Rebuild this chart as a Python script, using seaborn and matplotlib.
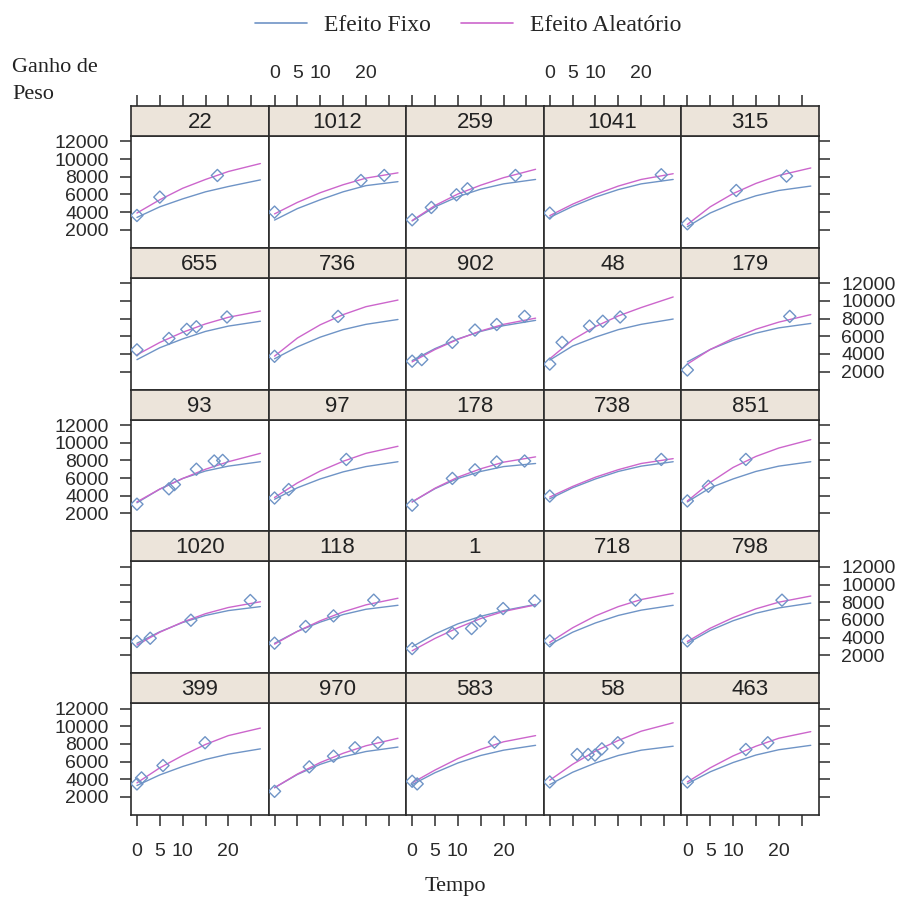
import pandas as pd
import matplotlib
matplotlib.use("Agg")
import matplotlib.pyplot as plt
from matplotlib.lines import Line2D
import seaborn as sns

# ---- dados ----
animais = ["22", "1012", "259", "1041", "315",
           "655", "736", "902", "48", "179",
           "93", "97", "178", "738", "851",
           "1020", "118", "1", "718", "798",
           "399", "970", "583", "58", "463"]

# tempos em que as curvas foram lidas
tempo_curva = [0, 5, 10, 15, 20, 27]

efeito_fixo = [
    [3400, 4600, 5500, 6300, 6900, 7650],
    [3100, 4400, 5400, 6300, 7000, 7450],
    [3000, 4600, 5750, 6600, 7200, 7700],
    [3400, 4650, 5700, 6550, 7200, 7700],
    [2350, 3900, 5000, 5850, 6450, 6950],
    [3350, 4700, 5700, 6550, 7150, 7700],
    [3450, 4800, 5900, 6750, 7350, 7900],
    [3250, 4600, 5700, 6550, 7200, 7800],
    [3300, 4900, 5900, 6750, 7350, 7950],
    [3100, 4500, 5550, 6350, 6950, 7450],
    [3200, 4750, 5950, 6800, 7350, 7850],
    [3600, 4900, 5900, 6700, 7300, 7850],
    [3300, 4800, 5950, 6750, 7300, 7650],
    [3650, 4900, 5900, 6750, 7350, 7850],
    [3300, 4900, 5900, 6750, 7350, 7850],
    [3350, 4650, 5700, 6500, 7050, 7500],
    [3350, 4700, 5750, 6600, 7200, 7650],
    [2950, 4400, 5550, 6400, 7050, 7750],
    [3200, 4600, 5650, 6500, 7100, 7650],
    [3350, 4800, 5900, 6750, 7350, 7900],
    [3300, 4500, 5450, 6250, 6850, 7450],
    [3050, 4550, 5700, 6550, 7150, 7650],
    [3400, 4750, 5850, 6700, 7300, 7850],
    [3400, 4800, 5850, 6700, 7300, 7750],
    [3500, 4850, 5900, 6750, 7350, 7850],
]

efeito_aleatorio = [
    [3900, 5400, 6700, 7700, 8600, 9500],
    [3800, 5100, 6200, 7100, 7850, 8450],
    [3050, 4750, 6050, 7050, 7900, 8850],
    [3600, 4900, 6000, 6950, 7700, 8350],
    [2600, 4600, 6100, 7250, 8150, 9000],
    [3900, 5300, 6450, 7400, 8150, 8850],
    [3750, 5800, 7300, 8450, 9350, 10100],
    [3100, 4500, 5650, 6600, 7350, 8050],
    [3450, 5600, 7100, 8300, 9250, 10450],
    [2850, 4500, 5750, 6800, 7600, 8450],
    [3300, 4750, 5950, 7000, 7850, 8800],
    [3800, 5450, 6800, 7900, 8800, 9600],
    [3300, 4850, 6100, 7050, 7800, 8400],
    [3850, 5050, 6100, 6950, 7650, 8200],
    [3400, 5500, 7200, 8450, 9400, 10350],
    [3150, 4600, 5750, 6700, 7400, 8050],
    [3250, 4700, 5900, 6900, 7700, 8450],
    [2500, 3900, 5100, 6150, 6950, 7700],
    [3450, 5100, 6450, 7500, 8300, 9000],
    [3550, 5050, 6250, 7250, 8000, 8700],
    [3600, 5300, 6700, 7950, 8950, 9800],
    [3050, 4600, 5900, 6950, 7800, 8650],
    [3600, 5050, 6350, 7400, 8250, 8950],
    [3900, 5700, 7200, 8400, 9450, 10400],
    [3700, 5300, 6650, 7750, 8650, 9400],
]

obs_tempo = [
    [0, 5, 17.6],
    [0, 18.9, 24],
    [0, 4.2, 9.7, 12.1, 22.6],
    [0, 24.4],
    [0, 10.7, 21.7],
    [0, 7, 10.9, 13, 19.7],
    [0, 13.9],
    [0, 2.1, 8.8, 13.75, 18.5, 24.6],
    [0, 2.7, 8.7, 11.6, 15.4],
    [0, 22.4],
    [0, 7, 8.2, 13, 16.9, 18.75],
    [0, 3.1, 15.7],
    [0, 8.8, 13.75, 18.5, 24.6],
    [0, 24.4],
    [0, 4.6, 12.8],
    [0, 2.9, 11.8, 24.8],
    [0, 6.8, 12.9, 21.7],
    [0, 8.8, 13, 14.9, 19.9, 26.8],
    [0, 18.75],
    [0, 20.7],
    [0, 1, 5.7, 14.9],
    [0, 7.6, 12.9, 17.6, 22.6],
    [0, 1.1, 18],
    [0, 6, 8.4, 9.9, 11.4, 14.9],
    [0, 12.8, 17.6],
]

obs_peso = [
    [3620, 5700, 8150],
    [4000, 7580, 8150],
    [3130, 4530, 5960, 6640, 8150],
    [3890, 8230],
    [2680, 6450, 8080],
    [4460, 5750, 6780, 7070, 8180],
    [3730, 8250],
    [3180, 3360, 5310, 6700, 7330, 8250],
    [2850, 5310, 7150, 7700, 8180],
    [2180, 8250],
    [3040, 4780, 5260, 7000, 7930, 8000],
    [3740, 4700, 8110],
    [2930, 5960, 6930, 7820, 7930],
    [3960, 8110],
    [3410, 5070, 8110],
    [3550, 3920, 5960, 8190],
    [3360, 5250, 6450, 8230],
    [2750, 4490, 5020, 5890, 7280, 8150],
    [3620, 8230],
    [3620, 8230],
    [3480, 4160, 5560, 8140],
    [2640, 5410, 6620, 7570, 8140],
    [3780, 3480, 8210],
    [3700, 6810, 6810, 6740, 7450, 8140],
    [3700, 7380, 8140],
]

x_ticks = [0, 5, 10, 15, 20, 25]
x_tick_labels = ["0", "5", "10", "", "20", ""]
y_ticks = [2000, 4000, 6000, 8000, 10000, 12000]
y_tick_labels = ["2000", "4000", "6000", "8000", "10000", "12000"]

# ---- estilo ----
sns.set_theme(style="white")
plt.rcParams["font.family"] = ["Liberation Sans", "DejaVu Sans"]
serif = ["Liberation Serif", "DejaVu Serif"]

azul = "#6f94c6"
roxo = "#cc66cc"
cor_strip = "#ece4da"
cor_borda = "#2b2b2b"

W, H = 901, 900
fig = plt.figure(figsize=(W / 100, H / 100), dpi=100)

pw = 137.6
row_h = 141.8
strip_h = 30
ph = row_h - strip_h
xlim = (-1.3, 28.8)
ylim = (-40, 12620)

for i, animal in enumerate(animais):
    r, c = divmod(i, 5)
    x0 = 131 + pw * c
    st = 106 + row_h * r

    ax = fig.add_axes([x0 / W, 1 - (st + row_h) / H, pw / W, ph / H])
    sax = fig.add_axes([x0 / W, 1 - (st + strip_h) / H, pw / W, strip_h / H])

    curvas = pd.DataFrame({
        "Tempo": tempo_curva * 2,
        "Peso": efeito_fixo[i] + efeito_aleatorio[i],
        "Efeito": ["Efeito Fixo"] * len(tempo_curva) + ["Efeito Aleatório"] * len(tempo_curva),
    })
    sns.lineplot(data=curvas, x="Tempo", y="Peso", hue="Efeito",
                 palette={"Efeito Fixo": azul, "Efeito Aleatório": roxo},
                 ax=ax, legend=False, lw=1.0, estimator=None, sort=True)
    sns.scatterplot(x=obs_tempo[i], y=obs_peso[i], marker="D", s=38,
                    facecolor="none", edgecolor=azul, linewidth=1.0, ax=ax, zorder=3)

    ax.set_xlim(xlim)
    ax.set_ylim(ylim)
    ax.set_xlabel("")
    ax.set_ylabel("")
    ax.set_xticks(x_ticks)
    ax.set_xticklabels(x_tick_labels)
    ax.set_yticks(y_ticks)
    ax.set_yticklabels(y_tick_labels)
    ax.tick_params(axis="y", direction="out", length=8, width=1.1,
                   color=cor_borda, labelsize=14, labelcolor="#2a2a2a", pad=8,
                   left=(c == 0), right=(c == 4),
                   labelleft=(c == 0 and r % 2 == 0),
                   labelright=(c == 4 and r % 2 == 1))
    ax.tick_params(axis="x", direction="out", length=8, width=1.1,
                   color=cor_borda, labelsize=14, labelcolor="#2a2a2a", pad=12,
                   bottom=(r == 4), top=False,
                   labelbottom=(r == 4 and c % 2 == 0), labeltop=False)
    for sp in ax.spines.values():
        sp.set_color(cor_borda)
        sp.set_linewidth(1.2)

    # faixa com o numero do animal
    sax.set_facecolor(cor_strip)
    sax.set_xlim(xlim)
    sax.set_ylim(0, 1)
    sax.set_xticks(x_ticks)
    sax.set_xticklabels(x_tick_labels)
    sax.set_yticks([])
    sax.tick_params(axis="x", direction="out", length=8, width=1.1,
                    color=cor_borda, labelsize=14, labelcolor="#2a2a2a", pad=9,
                    bottom=False, labelbottom=False, top=(r == 0),
                    labeltop=(r == 0 and c % 2 == 1))
    for sp in sax.spines.values():
        sp.set_color(cor_borda)
        sp.set_linewidth(1.2)
    sax.text(0.5, 0.45, animal, transform=sax.transAxes, ha="center",
             va="center", fontsize=16, color="#222222")

# legenda
alcas = [Line2D([0], [0], color=azul, lw=1.2), Line2D([0], [0], color=roxo, lw=1.2)]
fig.legend(alcas, ["Efeito Fixo", "Efeito Aleatório"], loc="center",
           bbox_to_anchor=(468 / W, 1 - 25 / H), ncol=2, frameon=False,
           prop={"family": serif, "size": 17}, handlelength=2.2,
           handletextpad=0.7, columnspacing=1.3)

fig.text(12 / W, 1 - 58 / H, "Ganho de\nPeso", ha="left", va="top",
         family=serif, fontsize=16, linespacing=1.6, color="#222222")
fig.text(455 / W, 1 - 886 / H, "Tempo", ha="center", va="center",
         family=serif, fontsize=16, color="#222222")

fig.savefig("out.png", dpi=100)
